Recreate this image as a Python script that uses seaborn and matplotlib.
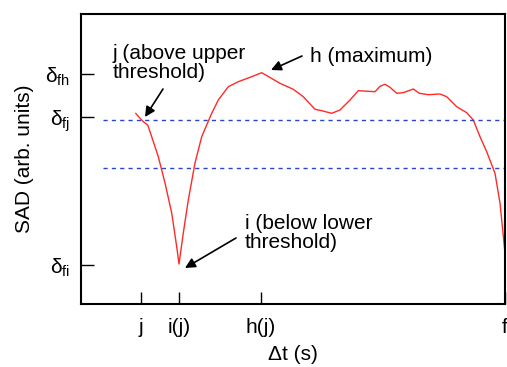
import matplotlib
matplotlib.use("Agg")
import matplotlib.pyplot as plt
import seaborn as sns
import pandas as pd

# ---- data ----
t = [54.7, 59, 62.3, 66.7, 70.7, 77.3, 84, 90.7, 95.7, 98, 102.3, 107.3, 114, 120.7,
     130.7, 137.3, 147.3, 157.3, 170.7, 180.7, 189, 199, 212.3, 222.3, 234, 240.7,
     250.7, 259, 269, 277.3, 294, 299, 304, 309, 315.7, 322.3, 332.3, 338.3, 347.3,
     359, 365.7, 375.7, 385.7, 392.3, 399, 405.7, 414, 419, 424]
sad = [190.7, 185.7, 182.3, 179, 167.3, 147.3, 121, 91, 57.3, 40, 71, 104, 141, 167.3,
       190.7, 204, 217.3, 222.3, 227.3, 231.3, 226.5, 220.7, 214.7, 207.3, 194.7, 193.3,
       190.7, 194, 204, 213.3, 212.3, 217.7, 219.7, 216.7, 210.7, 211.3, 215, 210.7, 209.3,
       210, 207.3, 197.3, 191.3, 184, 167.3, 152.3, 130.7, 101, 51]
upper_threshold = 184
lower_threshold = 136
x_tick_pos = [60, 98, 180, 424]
x_tick_labels = ["j", "i(j)", "h(j)", "f"]
y_tick_pos = [230, 187, 39]
y_tick_labels = [r"$\mathregular{δ_{fh}}$", r"$\mathregular{δ_{fj}}$", r"$\mathregular{δ_{fi}}$"]

df = pd.DataFrame({"t": t, "sad": sad})

sns.set_theme(style="white")
plt.rcParams["font.family"] = ["Liberation Sans", "DejaVu Sans"]
plt.rcParams["mathtext.fontset"] = "custom"
plt.rcParams["mathtext.rm"] = "Liberation Sans"
plt.rcParams["text.color"] = "black"
plt.rcParams["axes.labelcolor"] = "black"

fig = plt.figure(figsize=(5.07, 3.67), dpi=100)
ax = fig.add_axes([81 / 507, 1 - 304 / 367, 424 / 507, 290 / 367])

sns.lineplot(data=df, x="t", y="sad", ax=ax, color="#ff2a2a", lw=1.0, sort=False)
for th in (upper_threshold, lower_threshold):
    ax.hlines(th, 22, 424, colors="#2a44cc", linestyles=(0, (3, 3)), lw=1.0)

ax.set_xlim(0, 424)
ax.set_ylim(0, 290)
ax.set_xticks(x_tick_pos)
ax.set_xticklabels(x_tick_labels, fontsize=15)
ax.set_yticks(y_tick_pos)
ax.set_yticklabels(y_tick_labels, fontsize=15)
ax.tick_params(axis="both", direction="in", length=9, width=1.0, color="black",
               labelcolor="black", bottom=True, left=True)
ax.tick_params(axis="x", pad=10)
ax.tick_params(axis="y", pad=8)
for sp in ax.spines.values():
    sp.set_color("black")
    sp.set_linewidth(1.5)

ax.set_xlabel("Δt (s)", fontsize=15, color="black", labelpad=6)
ax.set_ylabel("SAD (arb. units)", fontsize=15, color="black", labelpad=8)

arrow = dict(arrowstyle="-|>", color="black", lw=1.2, mutation_scale=15,
             shrinkA=0, shrinkB=0)
ax.text(32, 241, "j (above upper\nthreshold)", fontsize=15, ha="left", va="center",
        linespacing=0.95, color="black")
ax.annotate("", xy=(64, 187), xytext=(82, 215), arrowprops=arrow)
ax.text(229, 247, "h (maximum)", fontsize=15, ha="left", va="center", color="black")
ax.annotate("", xy=(190, 234), xytext=(221, 248), arrowprops=arrow)
ax.text(164, 71, "i (below lower\nthreshold)", fontsize=15, ha="left", va="center",
        linespacing=0.95, color="black")
ax.annotate("", xy=(104, 36), xytext=(155, 66), arrowprops=arrow)

fig.savefig("out.png", dpi=100)
